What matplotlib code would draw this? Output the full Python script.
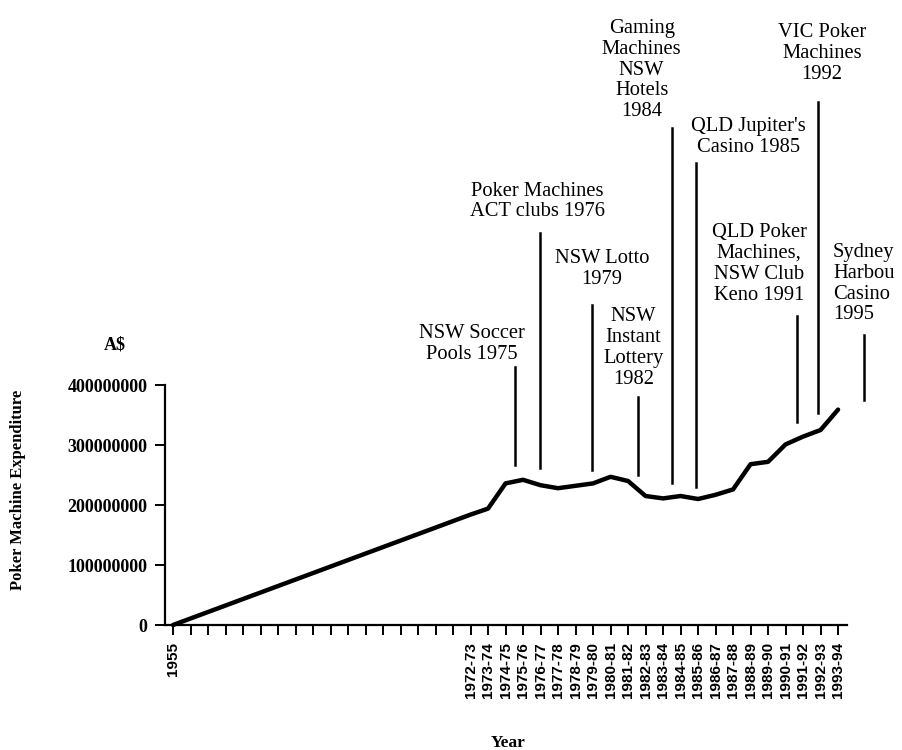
import matplotlib
matplotlib.use("Agg")
import matplotlib.pyplot as plt

# ---------------- data ----------------
year_labels = ["1955"] + [""] * 16 + [
    "1972-73", "1973-74", "1974-75", "1975-76", "1976-77", "1977-78",
    "1978-79", "1979-80", "1980-81", "1981-82", "1982-83", "1983-84",
    "1984-85", "1985-86", "1986-87", "1987-88", "1988-89", "1989-90",
    "1990-91", "1991-92", "1992-93", "1993-94"]

# positions (tick index) of the observed values and expenditure (A$)
obs_index = [0, 17, 18, 19, 20, 21, 22, 23, 24, 25, 26, 27, 28, 29, 30,
             31, 32, 33, 34, 35, 36, 37, 38]
expenditure = [0, 184e6, 194e6, 236e6, 242e6, 233e6, 228e6, 232e6, 236e6,
               247e6, 240e6, 215e6, 211e6, 215e6, 210e6, 217e6, 226e6,
               268e6, 272e6, 301e6, 314e6, 325e6, 359e6]

y_ticks = [0, 100000000, 200000000, 300000000, 400000000]

events = ["NSW Soccer\nPools 1975",
          "Poker Machines\nACT clubs 1976",
          "NSW Lotto\n1979",
          "NSW\nInstant\nLottery\n1982",
          "Gaming\nMachines\nNSW\nHotels\n1984",
          "QLD Jupiter's\nCasino 1985",
          "QLD Poker\nMachines,\nNSW Club\nKeno 1991",
          "VIC Poker\nMachines\n1992",
          "Sydney\nHarbou\nCasino\n1995"]

# ---------------- layout of annotations (x in tick index, y in A$) ------
event_line_x = [19.54, 20.97, 23.96, 26.55, 28.5, 29.89, 35.64, 36.87, 39.49]
event_line_y0 = [267e6, 262e6, 258e6, 250e6, 237e6, 230e6, 339e6, 354e6, 375e6]
event_line_y1 = [430e6, 653e6, 533e6, 380e6, 828e6, 770e6, 515e6, 872e6, 483e6]
event_text_x = [17.09, 20.84, 24.5, 26.3, 26.78, 32.87, 33.49, 37.07, 37.71]
event_text_y = [469e6, 706e6, 594e6, 462e6, 925e6, 814e6, 602e6, 953e6, 569e6]
event_text_ha = ["center"] * 8 + ["left"]

# ---------------- figure ----------------
W, H = 903, 750
fig = plt.figure(figsize=(W / 100, H / 100), dpi=100)
ax = fig.add_axes([165 / W, 125 / H, 682 / W, 625 / H])
ax.set_facecolor("none")

ax.plot(obs_index, expenditure, color="black", lw=3.2,
        solid_joinstyle="round", solid_capstyle="round", clip_on=False)

ax.set_xlim(-0.457, 38.51)
ax.set_ylim(0, 1041.7e6)

for s in ["top", "right"]:
    ax.spines[s].set_visible(False)
ax.spines["left"].set_bounds(0, 400e6)
ax.spines["left"].set_linewidth(1.6)
ax.spines["bottom"].set_linewidth(1.6)

ax.set_xticks(range(len(year_labels)))
ax.set_xticklabels(year_labels, rotation=90, fontsize=11,
                   family="Liberation Sans", fontweight="bold")
ax.tick_params(axis="x", direction="out", length=7.5, width=1.4, pad=5)

ax.set_yticks(y_ticks)
ax.set_yticklabels([str(v) for v in y_ticks], fontsize=13,
                   family="Liberation Serif", fontweight="bold")
ax.tick_params(axis="y", direction="out", length=7.5, width=1.4, pad=5)

for txt, lx, y0, y1, tx, ty, ha in zip(events, event_line_x, event_line_y0,
                                       event_line_y1, event_text_x,
                                       event_text_y, event_text_ha):
    ax.plot([lx, lx], [y0, y1], color="black", lw=1.8, clip_on=False)
    ax.text(tx, ty, txt, ha=ha, va="center", multialignment=ha,
            fontsize=14.8, family="Liberation Serif", linespacing=1.13,
            clip_on=False)

fig.text(18 / W, 1 - 490 / H, "Poker Machine Expenditure", rotation=90,
         ha="center", va="center", fontsize=12, family="Liberation Serif",
         fontweight="bold")
fig.text(115 / W, 1 - 345 / H, "A$", ha="center", va="center",
         fontsize=13, family="Liberation Serif", fontweight="bold")
fig.text(508 / W, 1 - 743 / H, "Year", ha="center", va="center",
         fontsize=12.5, family="Liberation Serif", fontweight="bold")

fig.savefig("out.png", dpi=100, facecolor="white")
